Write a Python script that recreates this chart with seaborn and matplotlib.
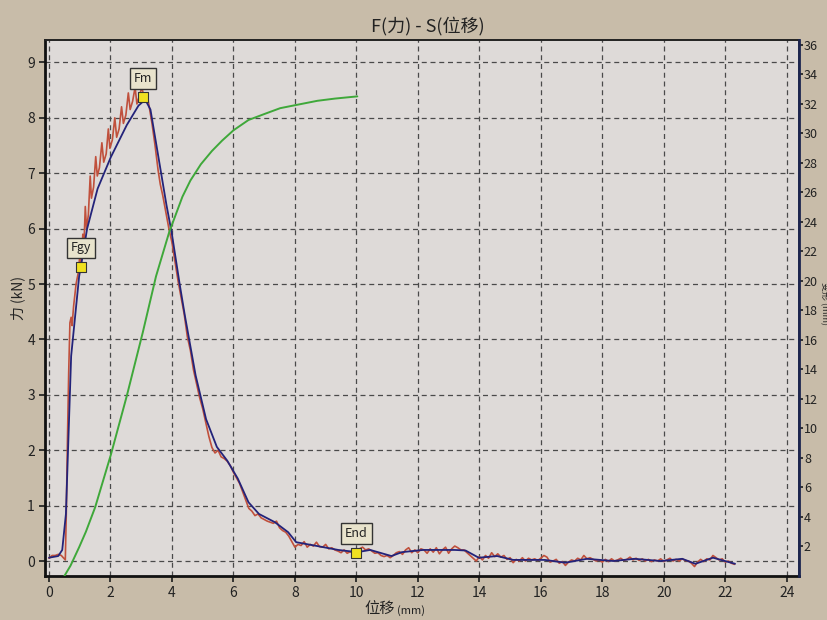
import numpy as np
import pandas as pd
import seaborn as sns
import matplotlib.pyplot as plt

# F-S curve: raw force (red), smoothed force (blue), right-axis curve (green)
disp_blue = [0.0, 0.3, 0.43, 0.55, 0.72, 0.98, 1.07, 1.24, 1.58, 2.01, 2.53, 2.91, 3.13,
             3.3, 3.56, 3.82, 3.99, 4.25, 4.42, 4.77, 5.11, 5.46, 5.8, 6.14, 6.49, 6.83,
             7.35, 7.78, 8.04, 8.73, 9.41, 10.03, 10.45, 11.14, 11.48, 12.17, 13.2, 13.55,
             13.98, 14.58, 15.1, 16.13, 16.8, 17.5, 18.36, 19.05, 19.9, 20.6, 21.03, 21.6, 22.32]
force_blue = [0.06, 0.09, 0.2, 0.85, 3.7, 5.14, 5.43, 6.0, 6.72, 7.29, 7.87, 8.22, 8.33,
              8.15, 7.29, 6.43, 5.93, 5.0, 4.43, 3.35, 2.56, 2.06, 1.81, 1.49, 1.06, 0.85,
              0.7, 0.52, 0.34, 0.27, 0.2, 0.16, 0.2, 0.09, 0.16, 0.2, 0.2, 0.19,
              0.06, 0.09, 0.02, 0.02, -0.03, 0.04, 0.0, 0.04, 0.0, 0.04, -0.05, 0.06, -0.05]

disp_red = [0.0, 0.1, 0.2, 0.3, 0.4, 0.48, 0.53, 0.56, 0.6, 0.64, 0.68, 0.72, 0.75, 0.8,
            0.88, 0.95, 1.0, 1.05, 1.1, 1.14, 1.18, 1.22, 1.28, 1.34, 1.38, 1.45, 1.52,
            1.57, 1.64, 1.72, 1.78, 1.86, 1.93, 1.98, 2.06, 2.14, 2.2, 2.28, 2.36, 2.42,
            2.5, 2.58, 2.64, 2.72, 2.8, 2.86, 2.94, 3.02, 3.1, 3.18, 3.26, 3.35, 3.45,
            3.55, 3.62, 3.7, 3.8, 3.9, 4.0, 4.1, 4.2, 4.3, 4.4, 4.5, 4.6, 4.7, 4.8, 4.9,
            5.0, 5.1, 5.2, 5.3, 5.4, 5.5, 5.6, 5.7, 5.8, 5.9, 6.0, 6.1, 6.2, 6.3, 6.4,
            6.5, 6.6, 6.7, 6.8, 6.9, 7.0, 7.1, 7.2, 7.3, 7.4, 7.5, 7.6, 7.7, 7.8, 7.9,
            8.0, 8.1, 8.2, 8.3, 8.4, 8.5, 8.6, 8.7, 8.8, 8.9, 9.0, 9.1, 9.2, 9.3, 9.4,
            9.5, 9.6, 9.7, 9.8, 9.9, 10.0, 10.1, 10.2, 10.3, 10.4, 10.5, 10.6, 10.7,
            10.8, 10.9, 11.0, 11.1, 11.2, 11.3, 11.4, 11.5, 11.6, 11.7, 11.8, 11.9,
            12.0, 12.1, 12.2, 12.3, 12.4, 12.5, 12.6, 12.7, 12.8, 12.9, 13.0, 13.1,
            13.2, 13.3, 13.4, 13.5, 13.6, 13.7, 13.8, 13.9, 14.0, 14.1, 14.2, 14.3,
            14.4, 14.5, 14.6, 14.7, 14.8, 14.9, 15.0, 15.1, 15.2, 15.3, 15.4, 15.5,
            15.6, 15.7, 15.8, 15.9, 16.0, 16.1, 16.2, 16.3, 16.4, 16.5, 16.6, 16.7,
            16.8, 16.9, 17.0, 17.1, 17.2, 17.3, 17.4, 17.5, 17.6, 17.7, 17.8, 17.9,
            18.0, 18.1, 18.2, 18.3, 18.4, 18.5, 18.6, 18.7, 18.8, 18.9, 19.0, 19.1,
            19.2, 19.3, 19.4, 19.5, 19.6, 19.7, 19.8, 19.9, 20.0, 20.1, 20.2, 20.3,
            20.4, 20.5, 20.6, 20.7, 20.8, 20.9, 21.0, 21.1, 21.2, 21.3, 21.4, 21.5,
            21.6, 21.7, 21.8, 21.9, 22.0, 22.1, 22.2, 22.3]
force_red = [0.05, 0.1, 0.1, 0.12, 0.1, 0.05, 0.02, 0.8, 2.2, 3.4, 4.3, 4.4, 4.25, 4.6,
             5.0, 5.2, 5.5, 5.35, 5.9, 5.75, 6.4, 6.0, 6.25, 6.95, 6.55, 6.75, 7.3,
             6.95, 7.1, 7.55, 7.2, 7.35, 7.8, 7.45, 7.6, 8.0, 7.65, 7.8, 8.2, 7.9,
             8.05, 8.45, 8.15, 8.3, 8.55, 8.25, 8.4, 8.55, 8.35, 8.45, 8.2, 7.9, 7.5,
             7.05, 6.8, 6.6, 6.3, 6.0, 5.75, 5.4, 5.05, 4.75, 4.45, 4.05, 3.8, 3.45, 3.2, 2.95,
             2.75, 2.5, 2.25, 2.05, 1.95, 2.0, 1.88, 1.85, 1.8, 1.72, 1.6, 1.5, 1.4, 1.25, 1.1,
             0.95, 0.9, 0.82, 0.85, 0.78, 0.75, 0.72, 0.7, 0.68, 0.72, 0.6, 0.55, 0.52, 0.45,
             0.35, 0.25, 0.3, 0.28, 0.35, 0.25, 0.3, 0.27, 0.34, 0.26, 0.25, 0.3, 0.22, 0.24, 0.2,
             0.18, 0.15, 0.2, 0.14, 0.17, 0.13, 0.15, 0.22, 0.25, 0.2, 0.22, 0.18, 0.14, 0.15,
             0.1, 0.08, 0.1, 0.06, 0.1, 0.15, 0.17, 0.12, 0.2, 0.24, 0.15, 0.2,
             0.15, 0.22, 0.2, 0.14, 0.22, 0.16, 0.24, 0.13, 0.2, 0.25, 0.14, 0.22,
             0.27, 0.24, 0.2, 0.2, 0.15, 0.1, 0.05, 0.0, 0.08, 0.02, 0.1, 0.05,
             0.15, 0.08, 0.13, 0.07, 0.1, 0.03, 0.06, -0.03, 0.03, 0.0, 0.06, 0.0,
             0.05, 0.02, 0.04, 0.01, 0.05, 0.1, 0.07, -0.02, 0.0, 0.03, -0.04, -0.01,
             -0.08, -0.02, 0.02, 0.0, 0.05, 0.02, 0.1, 0.04, 0.06, 0.03, 0.0, 0.02,
             -0.02, 0.03, -0.01, 0.04, 0.0, 0.02, 0.05, 0.01, 0.03, 0.07, 0.02, 0.05,
             0.01, 0.04, 0.0, 0.03, -0.01, 0.02, 0.0, 0.04, -0.01, 0.02, 0.05, 0.0,
             0.03, 0.0, 0.04, 0.01, 0.0, -0.04, -0.1, -0.02, 0.03, -0.01, 0.04, 0.02,
             0.1, 0.06, 0.02, 0.04, -0.02, 0.0, -0.04, -0.06]

disp_green = [0.5, 0.7, 0.98, 1.2, 1.5, 2.01, 2.53, 3.05, 3.48, 3.91, 4.34, 4.6, 4.94,
              5.3, 5.63, 6.0, 6.49, 7.0, 7.52, 8.0, 8.73, 9.3, 10.03]
right_green = [0.0, 0.7, 1.95, 3.0, 4.65, 8.2, 12.2, 16.5, 20.3, 23.3, 25.7, 26.8, 27.9,
               28.8, 29.5, 30.2, 30.9, 31.3, 31.7, 31.9, 32.2, 32.35, 32.5]

mark_names = ["Fgy", "Fm", "End"]
mark_x = [1.04, 3.07, 10.0]
mark_y = [5.31, 8.37, 0.15]

x_ticks = list(range(0, 25, 2))
left_ticks = list(range(0, 10))
right_ticks = list(range(2, 37, 2))

sns.set_theme(style="white")
plt.rcParams['font.family'] = ['Noto Sans CJK SC', 'DejaVu Sans']

fig = plt.figure(figsize=(8.28, 6.2), dpi=100, facecolor='#c8bca9')
ax = fig.add_axes([0.054, 0.071, 0.911, 0.864])
ax.set_facecolor('#dedad8')

sns.lineplot(x=disp_red, y=force_red, ax=ax, sort=False, estimator=None,
             color='#c0503c', lw=1.2)
sns.lineplot(x=disp_blue, y=force_blue, ax=ax, sort=False, estimator=None,
             color='#23237a', lw=1.3)

ax.set_xlim(-0.14, 24.4)
ax.set_ylim(-0.27, 9.4)
ax.set_xticks(x_ticks)
ax.set_yticks(left_ticks)
ax.set_xlabel('')
ax.set_ylabel('')
ax.grid(True, ls=(0, (4, 3)), color='#4a4a4a', lw=0.9)
ax.tick_params(axis='both', labelsize=10, colors='#222222', length=4, direction='out',
               bottom=True, left=True, pad=3)
for s in ['left', 'bottom']:
    ax.spines[s].set_color('#111111')
    ax.spines[s].set_linewidth(2)
ax.spines['top'].set_color('#222222')
ax.spines['top'].set_linewidth(1.4)

ax2 = ax.twinx()
sns.lineplot(x=disp_green, y=right_green, ax=ax2, sort=False, estimator=None,
             color='#3fa83a', lw=1.4)
ax2.set_ylim(0, 36.3)
ax2.set_yticks(right_ticks)
ax2.set_ylabel('')
ax2.grid(False)
ax2.tick_params(axis='y', labelsize=9, colors='#222222', length=3, direction='out',
                right=True, pad=0.5)
ax2.spines['right'].set_color('#1c2550')
ax2.spines['right'].set_linewidth(2)
for s in ['left', 'bottom', 'top']:
    ax2.spines[s].set_visible(False)

# markers with label boxes
sns.scatterplot(x=mark_x, y=mark_y, ax=ax, marker='s', s=55, color='#f0e020',
                edgecolor='#333333', linewidth=0.8, zorder=6)
for name, mx, my in zip(mark_names, mark_x, mark_y):
    ax.annotate(name, xy=(mx, my), xytext=(0, 9), textcoords='offset points',
                ha='center', va='bottom', fontsize=9, color='#222222', zorder=7,
                bbox=dict(boxstyle='square,pad=0.3', fc='#e8e3cc', ec='#333333', lw=1))

fig.text(0.517, 0.958, 'F(力) - S(位移)', ha='center', va='center', fontsize=13, color='#222222')
fig.text(0.022, 0.52, '力 (kN)', ha='center', va='center', rotation=90, fontsize=10, color='#222222')
fig.text(0.477, 0.018, '位移', ha='right', va='center', fontsize=11, color='#222222')
fig.text(0.48, 0.016, '(mm)', ha='left', va='center', fontsize=8, color='#222222')
fig.text(0.9955, 0.51, '变形 (mm)', ha='center', va='center', rotation=270, fontsize=6.5, color='#222222')

fig.savefig('out.png', dpi=100, facecolor=fig.get_facecolor())
